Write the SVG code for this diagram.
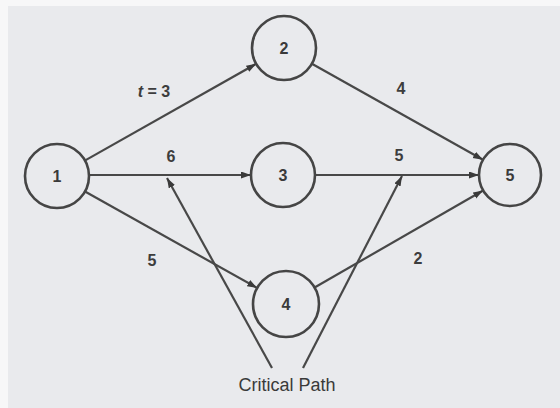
<svg xmlns="http://www.w3.org/2000/svg" width="560" height="408" viewBox="0 0 560 408">
  <style>
    .node circle { fill: none; stroke: #454545; stroke-width: 2.6; }
    .node text { font-family: "Liberation Sans", Arial, sans-serif; font-size: 16px; font-weight: bold; fill: #3a3a3a; text-anchor: middle; }
    .edge { stroke: #484848; stroke-width: 2.2; fill: none; marker-end: url(#arrow); }
    .lbl { font-family: "Liberation Sans", Arial, sans-serif; font-size: 16px; font-weight: bold; fill: #3d3d3d; text-anchor: middle; }
    .cap { font-family: "Liberation Sans", Arial, sans-serif; font-size: 18px; fill: #3a3a3a; text-anchor: middle; }
  </style>
  <defs>
    <marker id="arrow" markerUnits="userSpaceOnUse" markerWidth="11" markerHeight="8" refX="10" refY="3.5" orient="auto">
      <path d="M0,0 L10,3.5 L0,7 z" fill="#3a3a3a"/>
    </marker>
  </defs>
  <rect x="0" y="0" width="560" height="408" fill="#f7f7f8"/>
  <rect x="8" y="6" width="552" height="402" fill="#e9eaed"/>

  <g id="connectors">
    <line class="edge" x1="84.8" y1="160.6" x2="256.2" y2="63.8"/>
    <line class="edge" x1="89" y1="175" x2="251" y2="175"/>
    <line class="edge" x1="85" y1="191.5" x2="257.2" y2="288"/>
    <line class="edge" x1="311.9" y1="63.7" x2="483" y2="159.8"/>
    <line class="edge" x1="315" y1="175" x2="479" y2="175"/>
    <line class="edge" x1="314.6" y1="287.5" x2="483.1" y2="190.5"/>
    <line class="edge" x1="272" y1="368" x2="167" y2="178"/>
    <line class="edge" x1="303" y1="368" x2="402" y2="176"/>
  </g>

  <g id="edge-labels">
    <text class="lbl" x="154" y="97"><tspan font-style="italic">t</tspan> = 3</text>
    <text class="lbl" x="171" y="162">6</text>
    <text class="lbl" x="399" y="161">5</text>
    <text class="lbl" x="401" y="94">4</text>
    <text class="lbl" x="152" y="266">5</text>
    <text class="lbl" x="418" y="264">2</text>
    <text class="cap" x="287" y="391">Critical Path</text>
  </g>

  <g id="node1" class="node"><circle cx="57" cy="176" r="32"/><text x="57" y="182">1</text></g>
  <g id="node2" class="node"><circle cx="284" cy="48" r="32"/><text x="284" y="54">2</text></g>
  <g id="node3" class="node"><circle cx="283" cy="175" r="32"/><text x="283" y="181">3</text></g>
  <g id="node4" class="node"><circle cx="286" cy="304" r="33"/><text x="286" y="310">4</text></g>
  <g id="node5" class="node"><circle cx="510" cy="175" r="31"/><text x="510" y="181">5</text></g>
</svg>
